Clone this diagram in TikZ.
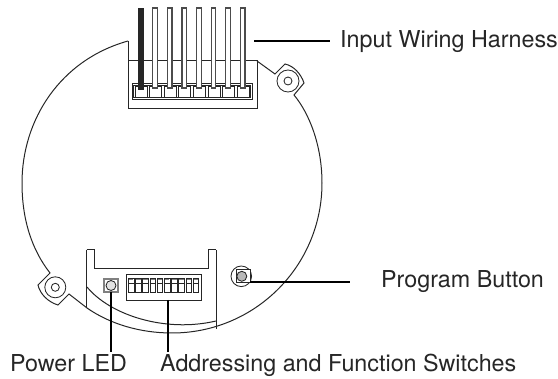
\documentclass[tikz,border=0pt]{standalone}
\usepackage{fontspec}
\setmainfont{TeX Gyre Heros}
\definecolor{ln}{gray}{0.15}
\definecolor{fillgray}{gray}{0.72}
\tikzset{
  outline/.style={draw=ln,line width=1pt,line join=miter},
  part/.style={draw=ln,line width=0.85pt},
  leader/.style={draw=black,line width=1.1pt},
  lbl/.style={font=\fontsize{23.3}{27}\selectfont,inner sep=0pt,anchor=base west,text=ln},
  wirebox/.style={draw=black!70,line width=1.2pt,fill=white},
  termbox/.style={draw=ln,line width=0.9pt,fill=white},
  swbox/.style={draw=ln,line width=0.8pt,fill=white},
}
\begin{document}
\begin{tikzpicture}[x=1pt,y=-1pt]
\useasboundingbox (0,0) rectangle (558,379);
% main body
\draw[outline] (128,41) .. controls (60,60) and (22,120) .. (22,183)
  .. controls (22,220) and (32,250) .. (50,273) -- (38,285)
  .. controls (40,294) and (48,302) .. (58,305) -- (69,294) -- (87,308);
\draw[outline] (257,61) -- (275,74) -- (285,64) .. controls (294,66) and (301,74) .. (304,83) -- (294,95)
 .. controls (309,113) and (322,145) .. (322,183)
 .. controls (322,266) and (255,333) .. (172,333)
 .. controls (140,333) and (110,324) .. (87,308);
% connector housing
\draw[outline] (128,41) -- (128,109) -- (257,109) -- (257,61) -- (128,61);
% terminal strip
\draw[part,fill=white] (132,83) rectangle (252,99);
\draw[part] (133.8,85) rectangle (250.2,97.5);
\foreach \i in {0,...,7} {
  \draw[termbox] ({135+\i*14.6},86) rectangle ({147+\i*14.6},97);
}
\foreach \i in {1,...,7} {
  \draw[wirebox] ({138.2+\i*14.6},8) rectangle ({142.8+\i*14.6},88);
}
\fill[ln] (138,8) rectangle (143.5,90);
% ears
\draw[part] (288,81) circle (4);
\draw[part] (288,81) circle (11);
\draw[part] (55.3,287.3) circle (4);
\draw[part] (55.3,287.3) circle (10.5);
% lower block
\draw[outline] (86.5,250) -- (86.5,308);
\draw[outline] (216,250) -- (216,329);
\draw[outline] (87,287) .. controls (110,315) and (165,333) .. (216,321);
\draw[outline] (86.5,250) -- (94,250) -- (94,269) -- (208,269) -- (208,250) -- (216,250);
% LED
\draw[draw=gray,line width=1.4pt] (104,279) rectangle (118,292);
\draw[part,fill=fillgray!40] (111,285.5) circle (5);
% switches
\draw[part] (126,274) rectangle (201,300);
\foreach \i in {0,...,9} {
  \draw[swbox] ({128.3+\i*7.2},278) rectangle ({134+\i*7.2},292);
  \draw[draw=ln,line width=0.8pt] ({128.3+\i*7.2},283) -- ({134+\i*7.2},283);
  \fill[ln!60] ({129+\i*7.2},278.6) rectangle ({133.3+\i*7.2},280);
}
% button
\draw[part] (241.3,276.3) circle (10.3);
\draw[part,fill=white,line width=1pt] (236,270) rectangle (250,283);
\draw[part,fill=fillgray] (241.8,276.3) circle (5);
% labels
\coordinate (inA) at (254,41);
\node[lbl] (inp) at (340,48) {Input Wiring Harness};
\draw[leader] (inA) -- (330,41);
\node[lbl] (prog) at (381,288) {Program Button};
\coordinate (pA) at (250,282);
\draw[leader] (pA) -- (350,282);
\node[lbl] (pwr) at (10,372) {Power LED};
\node[lbl] (addr) at (160,372) {Addressing and Function Switches};
\coordinate (ledA) at (111,292);
\coordinate (swA) at (168,300);
\draw[leader] (ledA) -- (111,352);
\draw[leader] (swA) -- (168,352);
\end{tikzpicture}
\end{document}
